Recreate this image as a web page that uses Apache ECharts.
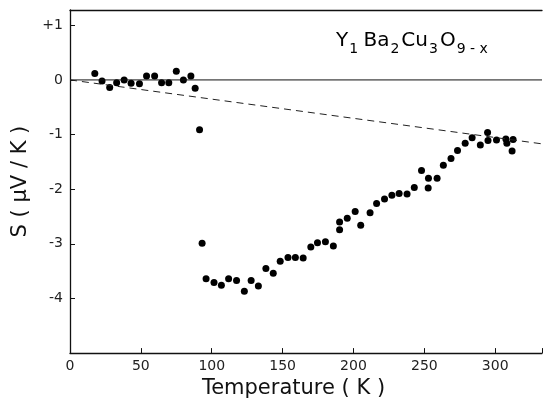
<!DOCTYPE html>
<html>
<head>
<meta charset="utf-8">
<script src="https://cdn.jsdelivr.net/npm/echarts@6/dist/echarts.min.js"></script>
<style>
	html,body{margin:0;padding:0;background:#fff;}
	#chartBox{width:545px;height:404px;}
</style>
</head>
<body>
<div id="chartBox"></div>
<script>
// 数据
var temperature = [17.5,22.6,28,32.9,38.2,43.1,49,54,59.7,64.6,69.7,75,80,85.3,88.3,91.4,
	93.2,96,101.6,106.8,111.9,117.5,123,127.8,132.9,
	138.2,143.4,148.3,153.8,159,164.5,169.9,174.6,180.2,185.8,
	190.2,190.2,195.6,201.2,205.1,211.7,216.3,221.9,227.1,
	232.2,237.8,242.9,248,252.9,252.7,259,263.4,268.8,273.4,
	278.8,283.7,289.5,294.6,294.9,300.9,307.5,308.2,312.6,311.9];
var seebeck = [0.12,-0.02,-0.14,-0.05,0,-0.06,-0.07,0.07,0.07,-0.05,-0.05,0.16,0,0.07,-0.15,-0.91,
	-2.99,-3.64,-3.71,-3.76,-3.64,-3.67,-3.87,-3.67,-3.77,
	-3.45,-3.54,-3.32,-3.25,-3.25,-3.26,-3.06,-2.98,-2.96,-3.04,
	-2.74,-2.6,-2.53,-2.41,-2.66,-2.43,-2.26,-2.18,-2.11,
	-2.08,-2.09,-1.97,-1.66,-1.8,-1.98,-1.8,-1.56,-1.44,-1.29,
	-1.16,-1.06,-1.19,-0.96,-1.11,-1.1,-1.08,-1.16,-1.09,-1.3];
// 零线和虚线 (端点)
var zeroLineT = [0,333];
var zeroLineS = [0,0];
var dashLineT = [0,333];
var dashLineS = [0,-1.17];
var xTicks = [0,50,100,150,200,250,300];
var yTicks = [1,0,-1,-2,-3,-4];

(function(){
	var font = "DejaVu Sans";

	function pairs(xs,ys){
		var out = [];
		for(var i=0;i<xs.length;i++){
			out.push([xs[i],ys[i]]);
		}
		return out;
	}

	var myChart = echarts.init(document.getElementById('chartBox'));
	var option = {
		animation:false,
		backgroundColor:'#fff',
		grid:{left:70,right:0,top:10,bottom:48},
		graphic:[{
			type:'text',
			left:336,
			top:31,
			style:{
				text:'{n|Y}{s|1} {n|Ba}{s|2}{n|Cu}{s|3}{n|O}{s|9 - x}',
				rich:{
					n:{fontFamily:font,fontSize:20,color:'#111',lineHeight:22,verticalAlign:'middle'},
					s:{fontFamily:font,fontSize:14,color:'#111',lineHeight:30,verticalAlign:'bottom',padding:[0,2,0,1]}
				}
			}
		}],
		xAxis:[{
			type:'value',
			min:0,
			max:333,
			interval:50,
			name:'Temperature ( K )',
			nameLocation:'middle',
			nameGap:24,
			nameTextStyle:{fontFamily:font,fontSize:21,color:'#111',padding:[0,25,0,0]},
			axisLine:{onZero:false,lineStyle:{color:'#111',width:1.3}},
			axisTick:{inside:true,length:5,lineStyle:{color:'#111'}},
			axisLabel:{
				fontFamily:font,fontSize:14,color:'#222',margin:6,
				formatter:function(v){return xTicks.indexOf(v)>-1 ? String(v) : '';}
			},
			splitLine:{show:false}
		},{
			type:'value',
			position:'top',
			min:0,
			max:333,
			axisLine:{show:true,onZero:false,lineStyle:{color:'#111',width:1.3}},
			axisTick:{show:false},
			axisLabel:{show:false},
			splitLine:{show:false}
		}],
		yAxis:{
			type:'value',
			min:-5,
			max:1.28,
			interval:1,
			name:'S ( μV / K )',
			nameLocation:'middle',
			nameGap:33,
			nameTextStyle:{fontFamily:font,fontSize:21,color:'#111'},
			axisLine:{show:true,onZero:false,lineStyle:{color:'#111',width:1.3}},
			axisTick:{inside:true,length:5,lineStyle:{color:'#111'}},
			axisLabel:{
				fontFamily:font,fontSize:14,color:'#222',margin:7,
				formatter:function(v){
					if(yTicks.indexOf(v)==-1) return '';
					return v>0 ? '+'+v : String(v);
				}
			},
			splitLine:{show:false}
		},
		series:[{
			type:'line',
			data:pairs(zeroLineT,zeroLineS),
			symbol:'none',
			lineStyle:{color:'#111',width:1},
			silent:true
		},{
			type:'line',
			data:pairs(dashLineT,dashLineS),
			symbol:'none',
			lineStyle:{color:'#222',width:1,type:[7,5]},
			silent:true
		},{
			type:'scatter',
			data:pairs(temperature,seebeck),
			symbol:'circle',
			symbolSize:7,
			itemStyle:{color:'#000',opacity:1}
		}]
	};
	myChart.setOption(option);
})();
</script>
</body>
</html>
